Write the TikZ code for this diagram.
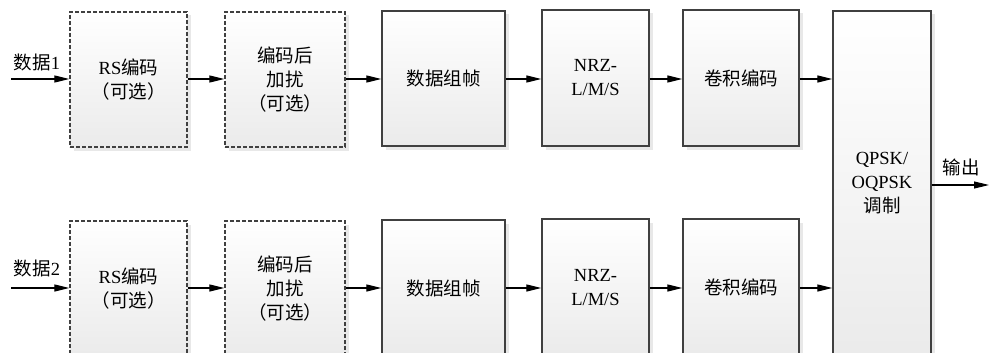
\documentclass[tikz,border=0pt]{standalone}
\usepackage{fontspec}
\setmainfont{Liberation Serif}
\newfontfamily\cjk{Noto Sans CJK SC}
\newcommand{\zh}[1]{{\cjk #1}}
\usetikzlibrary{arrows.meta,shadows}

\tikzset{
  blk/.style={draw=black!75, line width=1.3pt, top color=white, bottom color=black!8,
    drop shadow={shadow xshift=3.5pt, shadow yshift=-3.5pt, fill=black!9, opacity=1},
    align=center, inner sep=0pt, font=\fontsize{18.5}{24}\selectfont},
  optblk/.style={blk, dash pattern=on 4pt off 2pt},
  sig/.style={draw=black, line width=1.1pt, -{Triangle[length=15pt,width=7pt]}},
  lbl/.style={inner sep=0pt, font=\fontsize{18.5}{24}\selectfont}
}

\newcommand{\blkat}[7]{% style, name, x1, y1, x2, y2, text
  \node[#1, minimum width={#5-#3}, minimum height={#6-#4}] (#2) at ({(#3+#5)/2},{(#4+#6)/2}) {#7};}

\begin{document}
\begin{tikzpicture}[x=1pt, y=-1pt]
  \useasboundingbox (0,0) rectangle (989,353);
  \clip (0,0) rectangle (989,353);

  % modulator shared by both branches
  \blkat{blk}{qpsk}{833}{11}{931}{356}{QPSK/\\OQPSK\\\zh{调制}}

  % upper branch
  \blkat{optblk}{rsA}{70}{12}{187}{147}{RS\zh{编码}\\\zh{（可选）}}
  \blkat{optblk}{scA}{225}{12}{345}{147}{\zh{编码后}\\\zh{加扰}\\\zh{（可选）}}
  \blkat{blk}{frA}{382}{11}{505}{146}{\zh{数据组帧}}
  \blkat{blk}{nrA}{542}{10}{649}{146}{NRZ-\\L/M/S}
  \blkat{blk}{cvA}{683}{10}{799}{146}{\zh{卷积编码}}

  % lower branch
  \blkat{optblk}{rsB}{70}{221}{187}{356}{RS\zh{编码}\\\zh{（可选）}}
  \blkat{optblk}{scB}{225}{221}{345}{356}{\zh{编码后}\\\zh{加扰}\\\zh{（可选）}}
  \blkat{blk}{frB}{382}{220}{505}{356}{\zh{数据组帧}}
  \blkat{blk}{nrB}{542}{219}{649}{356}{NRZ-\\L/M/S}
  \blkat{blk}{cvB}{683}{219}{799}{356}{\zh{卷积编码}}

  % inputs and output
  \coordinate (inA) at (11,79);
  \coordinate (inB) at (11,288);
  \coordinate (out) at (989,185);
  \node[lbl] (lA) at (37,62) {\zh{数据}1};
  \node[lbl] (lB) at (37,268) {\zh{数据}2};
  \node[lbl] (lO) at (961,167) {\zh{输出}};

  \draw[sig] (inA) -- (inA -| rsA.west);
  \draw[sig] (inA -| rsA.east) -- (inA -| scA.west);
  \draw[sig] (inA -| scA.east) -- (inA -| frA.west);
  \draw[sig] (inA -| frA.east) -- (inA -| nrA.west);
  \draw[sig] (inA -| nrA.east) -- (inA -| cvA.west);
  \draw[sig] (inA -| cvA.east) -- (inA -| qpsk.west);

  \draw[sig] (inB) -- (inB -| rsB.west);
  \draw[sig] (inB -| rsB.east) -- (inB -| scB.west);
  \draw[sig] (inB -| scB.east) -- (inB -| frB.west);
  \draw[sig] (inB -| frB.east) -- (inB -| nrB.west);
  \draw[sig] (inB -| nrB.east) -- (inB -| cvB.west);
  \draw[sig] (inB -| cvB.east) -- (inB -| qpsk.west);

  \draw[sig] (out -| qpsk.east) -- (out);
\end{tikzpicture}
\end{document}
